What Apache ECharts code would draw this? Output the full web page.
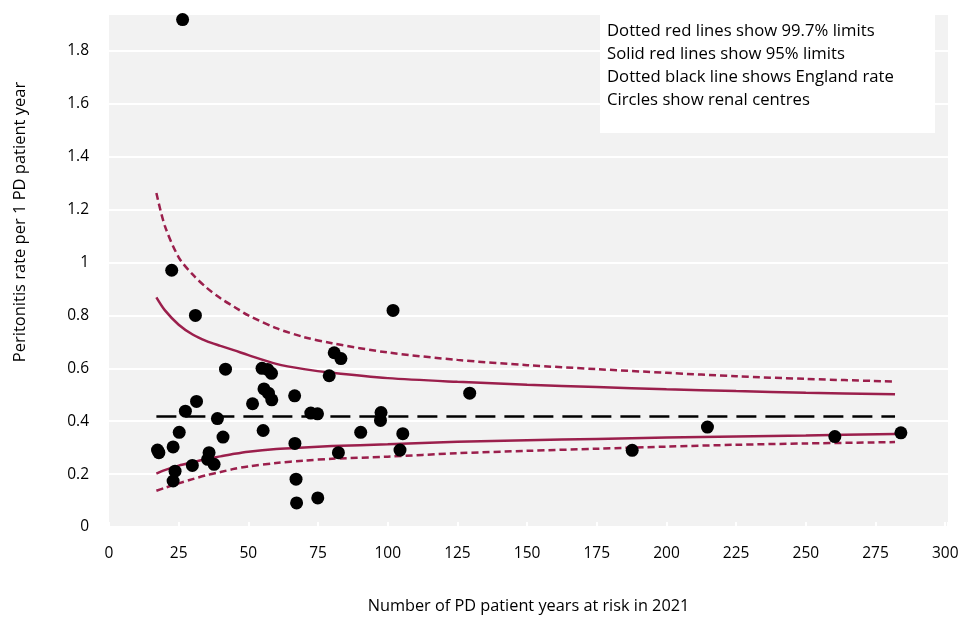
<!DOCTYPE html>
<html>
<head>
<meta charset="utf-8">
<script src="https://cdn.jsdelivr.net/npm/echarts@6/dist/echarts.min.js"></script>
<style>html,body{margin:0;padding:0;background:#fff;}#c{width:965px;height:619px;}</style>
</head>
<body>
<div id="c"></div>
<script>
// Renal centres: [patient years at risk, peritonitis rate]
const centres = [
  [26.4,1.919],[22.5,0.971],[31.0,0.800],[41.8,0.597],[54.9,0.600],[56.9,0.596],[58.3,0.581],
  [80.8,0.659],[83.2,0.637],[79.0,0.572],[55.6,0.522],[57.2,0.506],[58.4,0.481],[66.6,0.496],
  [31.4,0.475],[51.5,0.466],[27.4,0.438],[38.9,0.410],[72.4,0.431],[74.8,0.428],[25.2,0.358],
  [55.3,0.365],[90.3,0.358],[40.9,0.340],[17.4,0.291],[17.9,0.281],[23.0,0.303],[66.7,0.316],
  [35.9,0.281],[35.4,0.256],[37.7,0.237],[29.9,0.233],[82.3,0.281],[23.7,0.211],[23.0,0.174],
  [67.1,0.181],[67.3,0.091],[74.9,0.110],[101.9,0.819],[129.4,0.506],[97.6,0.433],[97.4,0.403],
  [105.4,0.353],[104.4,0.291],[214.7,0.378],[187.7,0.290],[260.4,0.342],[284.1,0.356]
];
// x positions at which the control limits were read
const limitX = [17,20,25,30,35,40,45,50,60,70,80,100,125,150,175,200,225,250,282];
const upper997 = [1.263,1.14,1.02,0.955,0.905,0.865,0.832,0.800,0.752,0.718,0.695,0.660,0.632,0.612,0.597,0.583,0.570,0.560,0.550];
const upper95  = [0.868,0.82,0.765,0.728,0.703,0.685,0.668,0.650,0.617,0.597,0.583,0.563,0.549,0.538,0.529,0.521,0.514,0.508,0.502];
const lower95  = [0.202,0.215,0.232,0.245,0.257,0.267,0.277,0.285,0.295,0.301,0.306,0.313,0.322,0.328,0.333,0.338,0.342,0.346,0.352];
const lower997 = [0.137,0.148,0.165,0.181,0.196,0.208,0.220,0.229,0.242,0.251,0.258,0.266,0.279,0.288,0.296,0.304,0.311,0.316,0.321];
const englandX = [17,282];
const englandRate = 0.418;
const legendLines = [
  'Dotted red lines show 99.7% limits',
  'Solid red lines show 95% limits',
  'Dotted black line shows England rate',
  'Circles show renal centres'
];
const xTitle = 'Number of PD patient years at risk in 2021';
const yTitle = 'Peritonitis rate per 1 PD patient year';

const RED = '#9b1f4c';
const FONT = 'Open Sans';
const pair = (xs, ys) => xs.map((x, i) => [x, ys[i]]);

const chart = echarts.init(document.getElementById('c'), null, {renderer: 'canvas'});
const limitSeries = (data, dashed) => ({
  type: 'line', data, showSymbol: false, smooth: 0.3, silent: true, z: 2,
  lineStyle: {color: RED, width: 2.5, type: dashed ? [7, 4] : 'solid'}
});
chart.setOption({
  animation: false,
  backgroundColor: '#ffffff',
  grid: {left: 109, right: 17, top: 14, bottom: 88, show: true, backgroundColor: '#f2f2f2', borderWidth: 0},
  xAxis: {
    type: 'value', min: 0, max: 301, interval: 25,
    name: xTitle, nameLocation: 'middle', nameGap: 71,
    nameTextStyle: {fontFamily: FONT, fontSize: 16.3, color: '#000'},
    axisLine: {show: false},
    axisTick: {show: true, inside: true, length: 5, lineStyle: {color: '#ffffff', width: 2}},
    splitLine: {show: false},
    axisLabel: {fontFamily: FONT, fontSize: 15.5, color: '#000', margin: 19,
      formatter: v => (v % 25 === 0 ? String(v) : '')}
  },
  yAxis: {
    type: 'value', min: 0, max: 1.94, interval: 0.2,
    axisLine: {show: false}, axisTick: {show: false},
    splitLine: {show: true, lineStyle: {color: '#ffffff', width: 2}},
    axisLabel: {fontFamily: FONT, fontSize: 15.5, color: '#000', margin: 20,
      formatter: v => (Math.abs(v * 5 - Math.round(v * 5)) < 1e-6 ? String(+v.toFixed(1)) : '')}
  },
  series: [
    limitSeries(pair(limitX, upper997), true),
    limitSeries(pair(limitX, upper95), false),
    limitSeries(pair(limitX, lower95), false),
    limitSeries(pair(limitX, lower997), true),
    {type: 'line', data: englandX.map(x => [x, englandRate]), showSymbol: false, silent: true, z: 2,
     lineStyle: {color: '#000', width: 2.5, type: [20, 9]}},
    {type: 'scatter', data: centres, symbol: 'circle', symbolSize: 13, z: 5,
     itemStyle: {color: '#000', opacity: 1}}
  ],
  graphic: [
    {type: 'text', x: 20, y: 222, rotation: Math.PI / 2, z: 100,
     style: {text: yTitle, fill: '#000', font: '16.5px "' + FONT + '"', align: 'center', verticalAlign: 'middle'}},
    {type: 'group', left: 600, top: 14, z: 100, children: [
      {type: 'rect', z: 100, shape: {x: 0, y: 0, width: 335, height: 119}, style: {fill: '#ffffff'}},
      ...legendLines.map((t, i) => ({type: 'text', z: 101, x: 7, y: 17 + i * 23.2,
        style: {text: t, fill: '#000', font: '16.7px "' + FONT + '"', verticalAlign: 'middle'}}))
    ]}
  ]
});
</script>
</body>
</html>
